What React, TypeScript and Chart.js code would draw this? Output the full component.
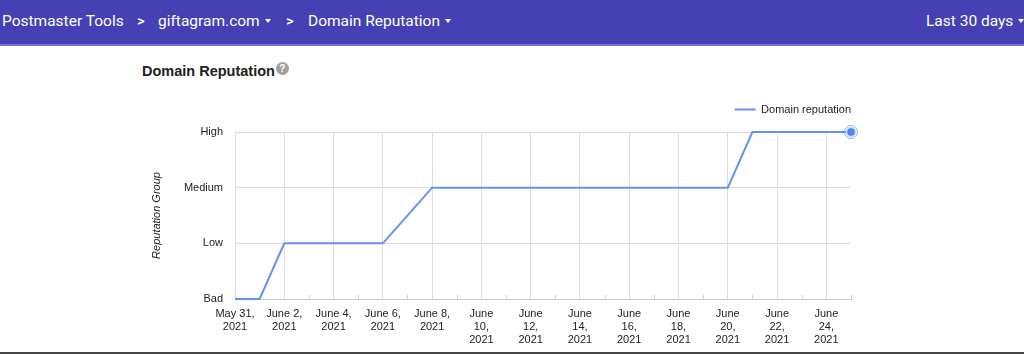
import React, { useEffect, useRef } from "react";
import { Chart, registerables } from "chart.js";

Chart.register(...registerables);

// ---- data ----
const dateCategories = [
  "May 31, 2021", "June 1, 2021", "June 2, 2021", "June 3, 2021", "June 4, 2021",
  "June 5, 2021", "June 6, 2021", "June 7, 2021", "June 8, 2021", "June 9, 2021",
  "June 10, 2021", "June 11, 2021", "June 12, 2021", "June 13, 2021", "June 14, 2021",
  "June 15, 2021", "June 16, 2021", "June 17, 2021", "June 18, 2021", "June 19, 2021",
  "June 20, 2021", "June 21, 2021", "June 22, 2021", "June 23, 2021", "June 24, 2021",
  "June 25, 2021",
];

const xTickLabels: string[][] = [
  ["May 31,", "2021"], [], ["June 2,", "2021"], [], ["June 4,", "2021"], [],
  ["June 6,", "2021"], [], ["June 8,", "2021"], [], ["June", "10,", "2021"], [],
  ["June", "12,", "2021"], [], ["June", "14,", "2021"], [], ["June", "16,", "2021"], [],
  ["June", "18,", "2021"], [], ["June", "20,", "2021"], [], ["June", "22,", "2021"], [],
  ["June", "24,", "2021"], [],
];

const reputationLevels = ["Bad", "Low", "Medium", "High"];

const reputationValues: (number | null)[] = [
  0, 0, 1, 1, 1, 1, 1, null, 2, 2, 2, 2, 2, 2, 2, 2, 2, 2, 2, 2, 2, 3, 3, 3, 3, 3,
];

const seriesLabel = "Domain reputation";
const lineColor = "#6193f2";
const gridColor = "#dedede";
const textColor = "#222222";
const chartFont = "'Liberation Sans', Arial, sans-serif";

const minorTicks = {
  id: "minorTicks",
  beforeDatasetsDraw(chart: any) {
    const xs = chart.scales.x;
    const bottom = chart.chartArea.bottom;
    const ctx = chart.ctx;
    ctx.save();
    ctx.strokeStyle = "#cfcfcf";
    ctx.lineWidth = 1;
    for (let i = 1; i < dateCategories.length; i += 2) {
      const x = Math.round(xs.getPixelForValue(i)) + 0.5;
      ctx.beginPath();
      ctx.moveTo(x, bottom);
      ctx.lineTo(x, bottom - 4);
      ctx.stroke();
    }
    ctx.restore();
  },
};

const legendTweak = {
  id: "legendTweak",
  beforeInit(chart: any) {
    const legend = chart.legend;
    if (!legend) return;
    const origFit = legend.fit;
    legend.fit = function () {
      origFit.call(this);
      this.height += 7;
    };
  },
  afterLayout(chart: any) {
    const legend = chart.legend;
    if (!legend) return;
    legend.left += 10;
    legend.right += 10;
  },
};

function Caret() {
  return (
    <span
      style={{
        display: "inline-block",
        width: 0,
        height: 0,
        borderLeft: "3.5px solid transparent",
        borderRight: "3.5px solid transparent",
        borderTop: "4px solid #ffffff",
        marginLeft: 5,
        verticalAlign: "middle",
        position: "relative",
        top: -1,
      }}
    />
  );
}

export default function App() {
  const canvasRef = useRef<HTMLCanvasElement | null>(null);

  useEffect(() => {
    document.body.style.margin = "0";
    const canvas = canvasRef.current;
    if (!canvas) return;
    const lastIdx = reputationValues.length - 1;
    const chart = new Chart(canvas, {
      type: "line",
      data: {
        labels: dateCategories,
        datasets: [
          {
            label: seriesLabel,
            data: reputationValues,
            borderColor: lineColor,
            backgroundColor: lineColor,
            borderWidth: 2,
            spanGaps: true,
            tension: 0,
            clip: false,
            pointRadius: (ctx: any) => (ctx.dataIndex === lastIdx ? 4.5 : 0),
            pointBackgroundColor: "#4f86ee",
            pointBorderColor: "#c9dafb",
            pointBorderWidth: 1.5,
            pointHoverRadius: 0,
            order: 1,
          },
          {
            label: "ring",
            data: reputationValues.map((v, i) => (i === lastIdx ? v : null)),
            showLine: false,
            clip: false,
            pointRadius: 6.5,
            pointBackgroundColor: "rgba(0,0,0,0)",
            pointBorderColor: "#86aef5",
            pointBorderWidth: 1,
            order: 2,
          },
        ],
      },
      options: {
        animation: false,
        responsive: false,
        events: [],
        layout: { padding: { left: 140, right: 173, top: 4, bottom: 0 } },
        plugins: {
          tooltip: { enabled: false },
          legend: {
            display: true,
            position: "top",
            align: "end",
            labels: {
              boxWidth: 21,
              boxHeight: 2,
              color: textColor,
              font: { family: chartFont, size: 11 },
              padding: 10,
              generateLabels: (c: any) =>
                Chart.defaults.plugins.legend.labels
                  .generateLabels(c)
                  .filter((l: any) => l.text !== "ring")
                  .map((l: any) => ({ ...l, lineWidth: 0 })),
            },
          },
        },
        scales: {
          x: {
            type: "category",
            offset: false,
            grid: {
              color: (ctx: any) => (ctx.index % 2 === 0 ? gridColor : "rgba(0,0,0,0)"),
              drawTicks: false,
            },
            border: { display: true, color: "#c9c9c9" },
            ticks: {
              autoSkip: false,
              maxRotation: 0,
              minRotation: 0,
              padding: 8,
              color: textColor,
              font: { family: chartFont, size: 11 },
              callback: (_v: any, idx: number) => xTickLabels[idx],
            },
            afterFit: (scale: any) => {
              scale.height = 53;
            },
          },
          y: {
            type: "linear",
            min: 0,
            max: 3,
            grid: { color: gridColor, drawTicks: false },
            border: { display: false },
            ticks: {
              stepSize: 1,
              padding: 12,
              color: textColor,
              font: { family: chartFont, size: 11 },
              callback: (v: any) => reputationLevels[v] ?? "",
            },
            title: {
              display: true,
              text: "Reputation Group",
              color: textColor,
              font: { family: chartFont, size: 11, style: "italic" },
              padding: { top: 10, bottom: 0 },
            },
            afterFit: (scale: any) => {
              scale.width = 95;
            },
          },
        },
      },
      plugins: [minorTicks, legendTweak],
    } as any);
    return () => chart.destroy();
  }, []);

  const headerText: React.CSSProperties = {
    position: "absolute",
    top: 11,
    fontFamily: "Roboto, 'Noto Sans', sans-serif",
    fontSize: 15.5,
    color: "#ffffff",
    whiteSpace: "nowrap",
    lineHeight: "20px",
  };

  const chevron: React.CSSProperties = {
    ...headerText,
    fontSize: 15,
    fontWeight: 500,
  };

  return (
    <div
      style={{
        position: "absolute",
        left: 0,
        top: 0,
        width: 1024,
        height: 354,
        background: "#ffffff",
        overflow: "hidden",
      }}
    >
      <div
        style={{
          position: "absolute",
          left: 0,
          top: 0,
          width: 1024,
          height: 44,
          background: "#4541b4",
          borderBottom: "2px solid #7470dc",
        }}
      >
        <span style={{ ...headerText, left: 2 }}>Postmaster Tools</span>
        <span style={{ ...chevron, left: 137 }}>&gt;</span>
        <span style={{ ...headerText, left: 158 }}>
          giftagram.com
          <Caret />
        </span>
        <span style={{ ...chevron, left: 286 }}>&gt;</span>
        <span style={{ ...headerText, left: 308 }}>
          Domain Reputation
          <Caret />
        </span>
        <span style={{ ...headerText, left: 926 }}>
          Last 30 days
          <Caret />
        </span>
      </div>
      <div
        style={{
          position: "absolute",
          left: 142,
          top: 63,
          fontFamily: "'Liberation Sans', Arial, sans-serif",
          fontWeight: 700,
          fontSize: 14.5,
          color: "#202020",
          lineHeight: "17px",
          whiteSpace: "nowrap",
        }}
      >
        Domain Reputation
        <span
          style={{
            display: "inline-block",
            width: 13,
            height: 13,
            borderRadius: 6.5,
            background: "#a0a0a0",
            color: "#ffffff",
            fontSize: 10,
            lineHeight: "13px",
            textAlign: "center",
            verticalAlign: "top",
            marginLeft: 1,
            position: "relative",
            top: -1,
          }}
        >
          ?
        </span>
      </div>
      <canvas
        ref={canvasRef}
        width={1024}
        height={262}
        style={{ position: "absolute", left: 0, top: 90, width: 1024, height: 262 }}
      />
      <div
        style={{
          position: "absolute",
          left: 0,
          top: 352,
          width: 1024,
          height: 2,
          background: "#454545",
        }}
      />
    </div>
  );
}
